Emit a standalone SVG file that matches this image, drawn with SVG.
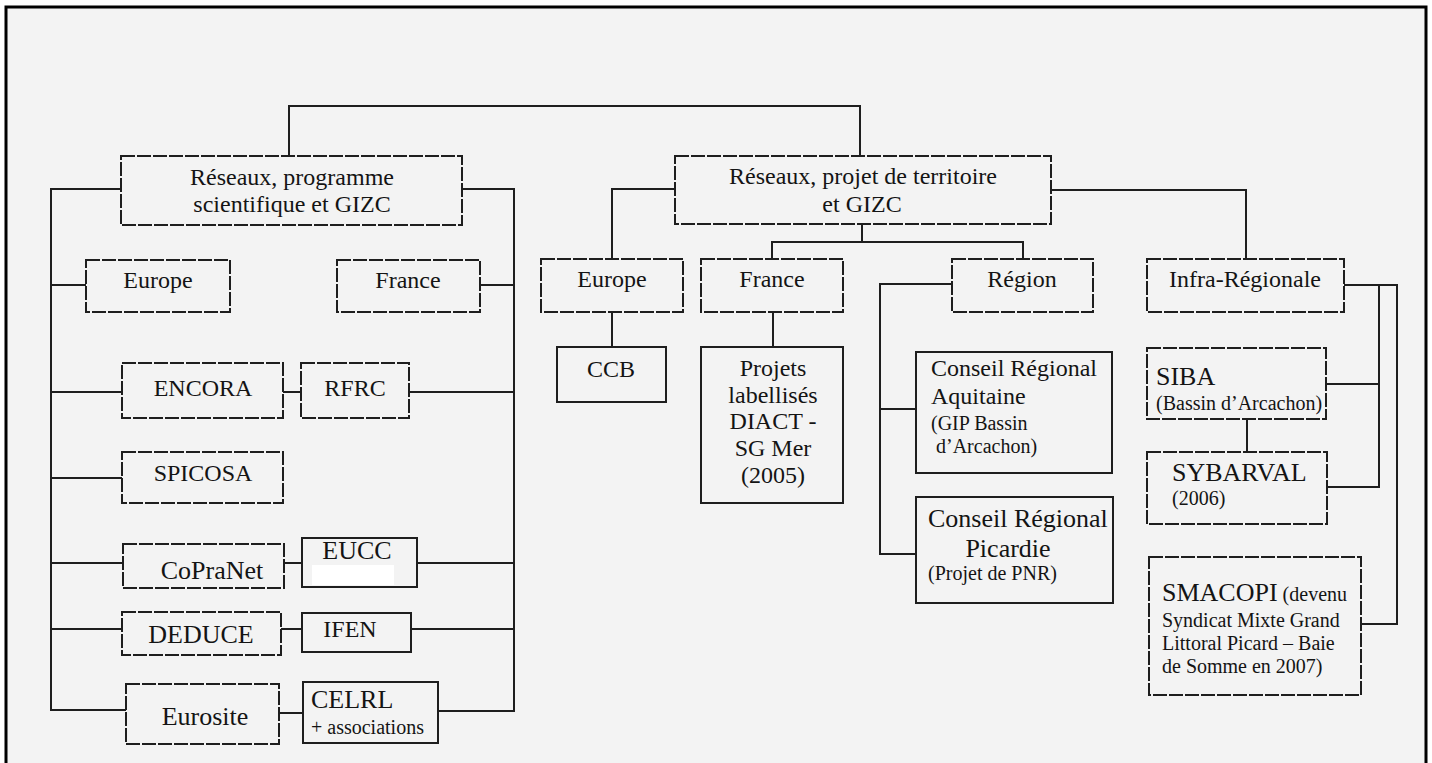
<svg xmlns="http://www.w3.org/2000/svg" width="1432" height="763" viewBox="0 0 1432 763">
<style>
  .box { fill: none; stroke: #1e1e1e; stroke-width: 2; }
  .dash { stroke-dasharray: 14 2; }
  .conn { fill: none; stroke: #1e1e1e; stroke-width: 2; }
  text { font-family: "Liberation Serif", "Times New Roman", serif; fill: #141414; }
  .c { text-anchor: middle; }
  .f23 { font-size: 24px; }
  .f22 { font-size: 24px; }
  .f26 { font-size: 26px; }
  .f24 { font-size: 24px; }
  .f20 { font-size: 20px; }
</style>
<rect x="0" y="0" width="1432" height="763" fill="#ffffff"/>
<rect x="6" y="7" width="1420" height="760" fill="#f3f3f3"/>
<path d="M6 770 V7 H1426 V770" fill="none" stroke="#000" stroke-width="3"/>

<g id="connectors">
  <path class="conn" d="M289 156 V106 H860 V156"/>
  <path class="conn" d="M121 189 H51 V710 H126"/>
  <path class="conn" d="M51 285 H86 M51 392 H122 M51 478 H122 M51 563 H123 M51 629 H122"/>
  <path class="conn" d="M462 189 H514 V711 H438"/>
  <path class="conn" d="M480 285 H514 M409 392 H514 M417 563 H514 M411 629 H514"/>
  <path class="conn" d="M283 392 H301 M284 563 H302 M281 629 H302 M279 713 H303"/>
  <path class="conn" d="M675 189 H612 V259 M612 312 V347"/>
  <path class="conn" d="M862 224 V242 M772 259 V242 H1023 V259"/>
  <path class="conn" d="M773 312 V347"/>
  <path class="conn" d="M952 284 H880 V554 H916 M880 409 H916"/>
  <path class="conn" d="M1051 190 H1246 V259"/>
  <path class="conn" d="M1344 285 H1397 V624 H1361 M1379 285 V487 H1327 M1326 384 H1379"/>
  <path class="conn" d="M1247 419 V452"/>
</g>

<g id="reseaux-programme">
  <rect class="box dash" x="121" y="156" width="341" height="69"/>
  <text class="c f22" x="292" y="185">Réseaux, programme</text>
  <text class="c f22" x="292" y="212">scientifique et GIZC</text>
</g>
<g id="europe-left">
  <rect class="box dash" x="86" y="260" width="144" height="52"/>
  <text class="c f22" x="158" y="288">Europe</text>
</g>
<g id="france-left">
  <rect class="box dash" x="337" y="260" width="143" height="52"/>
  <text class="c f22" x="408" y="288">France</text>
</g>
<g id="encora">
  <rect class="box dash" x="122" y="363" width="161" height="55"/>
  <text class="c f23" x="203" y="396">ENCORA</text>
</g>
<g id="rfrc">
  <rect class="box dash" x="301" y="363" width="108" height="55"/>
  <text class="c f22" x="355" y="396">RFRC</text>
</g>
<g id="spicosa">
  <rect class="box dash" x="122" y="452" width="161" height="51"/>
  <text class="c f23" x="203" y="481">SPICOSA</text>
</g>
<g id="copranet">
  <rect class="box dash" x="123" y="544" width="161" height="44"/>
  <text class="c f26" x="212" y="579">CoPraNet</text>
</g>
<g id="eucc">
  <rect class="box" x="302" y="538" width="115" height="49"/>
  <text class="c f26" x="357" y="559">EUCC</text>
  <rect x="312" y="565" width="82" height="20" fill="#ffffff"/>
</g>
<g id="deduce">
  <rect class="box dash" x="122" y="612" width="159" height="43"/>
  <text class="c f26" x="201" y="643">DEDUCE</text>
</g>
<g id="ifen">
  <rect class="box" x="302" y="613" width="109" height="39"/>
  <text class="c f24" x="350" y="637">IFEN</text>
</g>
<g id="eurosite">
  <rect class="box dash" x="126" y="684" width="153" height="60"/>
  <text class="c f26" x="205" y="725">Eurosite</text>
</g>
<g id="celrl">
  <rect class="box" x="303" y="682" width="135" height="61"/>
  <text class="f26" x="311" y="708">CELRL</text>
  <text class="f20" x="311" y="734">+ associations</text>
</g>

<g id="reseaux-territoire">
  <rect class="box dash" x="675" y="156" width="376" height="68"/>
  <text class="c f23" x="863" y="184">Réseaux, projet de territoire</text>
  <text class="c f23" x="862" y="212">et GIZC</text>
</g>
<g id="europe-right">
  <rect class="box dash" x="541" y="259" width="142" height="53"/>
  <text class="c f23" x="612" y="287">Europe</text>
</g>
<g id="france-right">
  <rect class="box dash" x="701" y="259" width="142" height="53"/>
  <text class="c f23" x="772" y="287">France</text>
</g>
<g id="region">
  <rect class="box dash" x="952" y="259" width="141" height="53"/>
  <text class="c f23" x="1022" y="287">Région</text>
</g>
<g id="infra-regionale">
  <rect class="box dash" x="1147" y="259" width="197" height="53"/>
  <text class="c f23" x="1245" y="287">Infra-Régionale</text>
</g>
<g id="ccb">
  <rect class="box" x="557" y="347" width="109" height="55"/>
  <text class="c f23" x="611" y="377">CCB</text>
</g>
<g id="projets">
  <rect class="box" x="701" y="347" width="142" height="156"/>
  <text class="c f23" x="773" y="376">Projets</text>
  <text class="c f23" x="773" y="403">labellisés</text>
  <text class="c f23" x="773" y="429">DIACT -</text>
  <text class="c f23" x="773" y="456">SG Mer</text>
  <text class="c f23" x="773" y="483">(2005)</text>
</g>
<g id="aquitaine">
  <rect class="box" x="916" y="352" width="196" height="121"/>
  <text class="f24" x="931" y="376">Conseil Régional</text>
  <text class="f24" x="931" y="404">Aquitaine</text>
  <text class="f20" x="931" y="430">(GIP Bassin</text>
  <text class="f20" x="936" y="453">d’Arcachon)</text>
</g>
<g id="picardie">
  <rect class="box" x="916" y="497" width="197" height="106"/>
  <text class="f26" x="928" y="527">Conseil Régional</text>
  <text class="c f26" x="1008" y="557">Picardie</text>
  <text class="f20" x="928" y="580">(Projet de PNR)</text>
</g>
<g id="siba">
  <rect class="box dash" x="1147" y="348" width="179" height="71"/>
  <text class="f26" x="1156" y="385">SIBA</text>
  <text class="f20" x="1156" y="410">(Bassin d’Arcachon)</text>
</g>
<g id="sybarval">
  <rect class="box dash" x="1147" y="452" width="180" height="72"/>
  <text class="f26" x="1172" y="481">SYBARVAL</text>
  <text class="f20" x="1172" y="505">(2006)</text>
</g>
<g id="smacopi">
  <rect class="box dash" x="1149" y="557" width="212" height="138"/>
  <text x="1162" y="601"><tspan class="f26">SMACOPI</tspan><tspan class="f20"> (devenu</tspan></text>
  <text class="f20" x="1162" y="627">Syndicat Mixte Grand</text>
  <text class="f20" x="1162" y="650">Littoral Picard – Baie</text>
  <text class="f20" x="1162" y="673">de Somme en 2007)</text>
</g>
</svg>
